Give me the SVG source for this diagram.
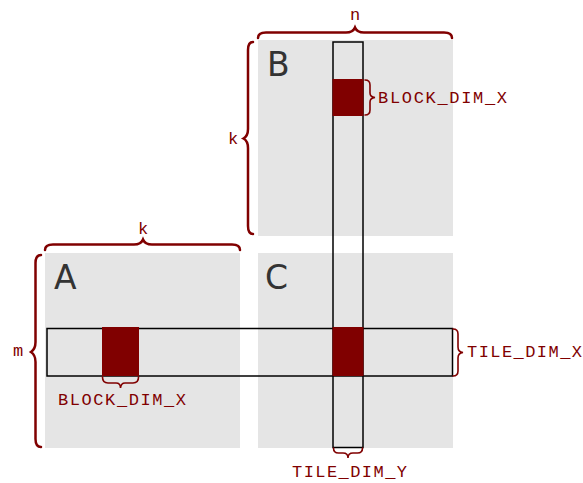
<svg xmlns="http://www.w3.org/2000/svg" width="583" height="483" viewBox="0 0 583 483">
  <style>
    .mat { fill: #e5e5e5; }
    .name { font-family: "DejaVu Sans", "Liberation Sans", sans-serif; font-size: 33px; fill: #333333; }
    .tile { fill: none; stroke: #000000; stroke-width: 1.5; }
    .blk { fill: #800000; }
    .brace { fill: none; stroke: #800000; stroke-width: 2.5; stroke-linecap: round; }
    .brace-s { fill: none; stroke: #800000; stroke-width: 1.6; stroke-linecap: round; }
    .lbl { font-family: "Liberation Mono", "Courier New", monospace; font-size: 17px; fill: #800000; }
  </style>
  <rect width="583" height="483" fill="#ffffff"/>

  <!-- matrix B -->
  <g id="matB">
    <rect class="mat" x="258" y="40" width="195" height="196"/>
    <text class="name" x="267" y="76">B</text>
  </g>
  <!-- matrix A -->
  <g id="matA">
    <rect class="mat" x="45" y="253" width="195" height="195"/>
    <text class="name" x="54" y="289">A</text>
  </g>
  <!-- matrix C -->
  <g id="matC">
    <rect class="mat" x="258" y="253" width="195" height="195"/>
    <text class="name" x="265" y="289">C</text>
  </g>

  <!-- tile strips -->
  <g id="tileRow">
    <rect class="tile" x="47" y="328.5" width="405.5" height="47.5"/>
  </g>
  <g id="tileCol">
    <rect class="tile" x="333" y="42" width="30" height="405.5"/>
  </g>

  <!-- blocks -->
  <g id="blockB"><rect class="blk" x="332.5" y="79" width="31" height="37"/></g>
  <g id="blockA"><rect class="blk" x="102" y="327" width="37" height="49"/></g>
  <g id="blockC"><rect class="blk" x="332.5" y="327" width="31" height="49"/></g>

  <!-- dimension braces -->
  <g id="braces">
    <!-- n -->
    <path class="brace" d="M258,38 Q258,32.5 266,32.5 L346,32.5 Q353,32.5 355,27.5 Q357,32.5 364,32.5 L444,32.5 Q452,32.5 452,38"/>
    <!-- k over A -->
    <path class="brace" d="M45,250 Q45,244.5 53,244.5 L134,244.5 Q141,244.5 143,239.5 Q145,244.5 152,244.5 L232,244.5 Q240,244.5 240,250"/>
    <!-- k beside B -->
    <path class="brace" d="M253,42 Q248,42 248,50 L248,129 Q248,136 243.5,138.5 Q248,141 248,148 L248,226 Q248,234 253,234"/>
    <!-- m beside A -->
    <path class="brace" d="M41,255 Q35.5,255 35.5,263 L35.5,342 Q35.5,349 31,352 Q35.5,355 35.5,362 L35.5,439 Q35.5,447 41,447"/>
    <!-- BLOCK_DIM_X at B -->
    <path class="brace-s" d="M365,80 Q370,80 370,85 L370,93 Q370,97 375,97.5 Q370,98 370,102 L370,110 Q370,115 365,115"/>
    <!-- BLOCK_DIM_X under A -->
    <path class="brace-s" d="M102.5,377 Q102.5,383 108,383 L116,383 Q120.5,383 120.5,388 Q121,383 125,383 L133,383 Q138.5,383 138.5,377"/>
    <!-- TILE_DIM_X -->
    <path class="brace-s" d="M453,329 Q458,329 458,334 L458,347 Q458,352 463,352.5 Q458,353 458,358 L458,371 Q458,376 453,376"/>
    <!-- TILE_DIM_Y -->
    <path class="brace-s" d="M333.5,448 Q333.5,453 338.5,453 L343,453 Q348,453 348,458 Q348,453 353,453 L357.5,453 Q362.5,453 362.5,448"/>
  </g>

  <!-- labels -->
  <g id="labels">
    <text class="lbl" x="355" y="20" text-anchor="middle">n</text>
    <text class="lbl" x="143" y="234" text-anchor="middle">k</text>
    <text class="lbl" x="233" y="144" text-anchor="middle">k</text>
    <text class="lbl" x="18" y="356" text-anchor="middle">m</text>
    <text class="lbl" x="378" y="103" textLength="129" lengthAdjust="spacing">BLOCK_DIM_X</text>
    <text class="lbl" x="58" y="405" textLength="128" lengthAdjust="spacing">BLOCK_DIM_X</text>
    <text class="lbl" x="467" y="357" textLength="115" lengthAdjust="spacing">TILE_DIM_X</text>
    <text class="lbl" x="292" y="477" textLength="115" lengthAdjust="spacing">TILE_DIM_Y</text>
  </g>
</svg>
